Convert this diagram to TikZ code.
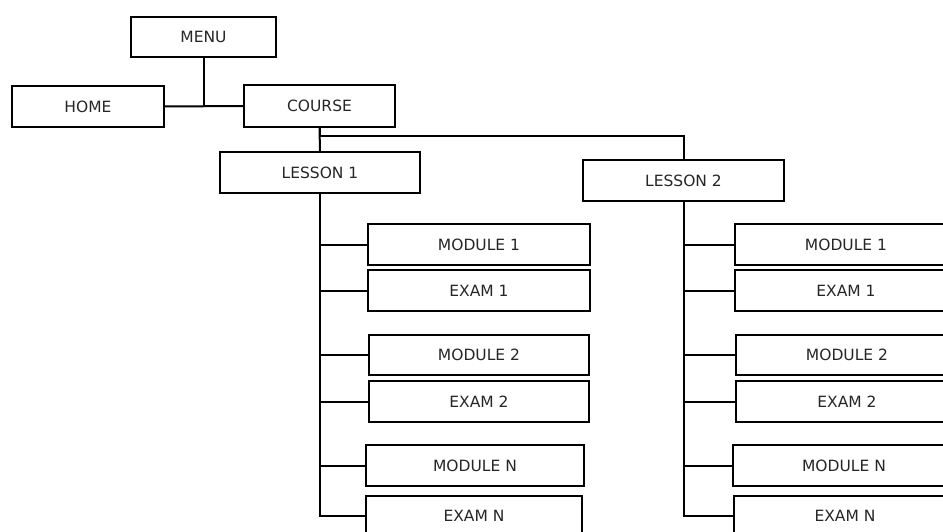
\documentclass[tikz,border=0pt]{standalone}
\usepackage{fontspec}
\setmainfont{DejaVu Sans}
\tikzset{
  box/.style={draw, line width=2pt, minimum width=222pt, minimum height=41pt, inner sep=0pt,
    font=\fontsize{15.5}{18}\selectfont, text=black!85},
  link/.style={line width=2pt}
}
\begin{document}
\begin{tikzpicture}[x=1pt,y=1pt]
\useasboundingbox (0,0) rectangle (943,-532);
\clip (0,0) rectangle (943,-532);
\node[box, minimum width=145pt, minimum height=40pt] (menu) at (203.5,-37) {MENU};
\node[box, minimum width=152pt] (home) at (88,-106.5) {HOME};
\node[box, minimum width=151pt, minimum height=42pt] (course) at (319.5,-106) {COURSE};
\node[box, minimum width=200pt] (lessona) at (320,-172.5) {LESSON 1};
\node[box, minimum width=201pt] (lessonb) at (683.5,-180.5) {LESSON 2};
% lesson 1
\node[box] (moda1) at (479,-244.5) {MODULE 1};
\node[box] (exama1) at (479,-290.5) {EXAM 1};
\node[box, minimum width=220pt, minimum height=40pt] (moda2) at (479,-354.5) {MODULE 2};
\node[box, minimum width=220pt] (exama2) at (479,-401.5) {EXAM 2};
\node[box, minimum width=218pt] (modan) at (475,-465.5) {MODULE N};
\node[box, minimum width=216pt] (examan) at (474,-516) {EXAM N};
% lesson 2
\node[box] (modb1) at (846,-244.5) {MODULE 1};
\node[box] (examb1) at (846,-290.5) {EXAM 1};
\node[box, minimum height=40pt] (modb2) at (847,-354.5) {MODULE 2};
\node[box] (examb2) at (847,-401.5) {EXAM 2};
\node[box] (modbn) at (844,-465.5) {MODULE N};
\node[box] (exambn) at (845,-516) {EXAM N};
% connectors
\coordinate (top) at (menu.south |- home.east);
\draw[link] (menu) -- (top);
\draw[link] (home) -- (course);
\draw[link] (course.south) -- (lessona.north);
\draw[link] (course.south) -- ++(0,-8) -| (lessonb.north);
\draw[link] (lessona.south) |- (examan.west);
\foreach \n in {moda1,exama1,moda2,exama2,modan}
  \draw[link] (lessona.south |- \n.west) -- (\n.west);
\draw[link] (lessonb.south) |- (exambn.west);
\foreach \n in {modb1,examb1,modb2,examb2,modbn}
  \draw[link] (lessonb.south |- \n.west) -- (\n.west);
\end{tikzpicture}
\end{document}
